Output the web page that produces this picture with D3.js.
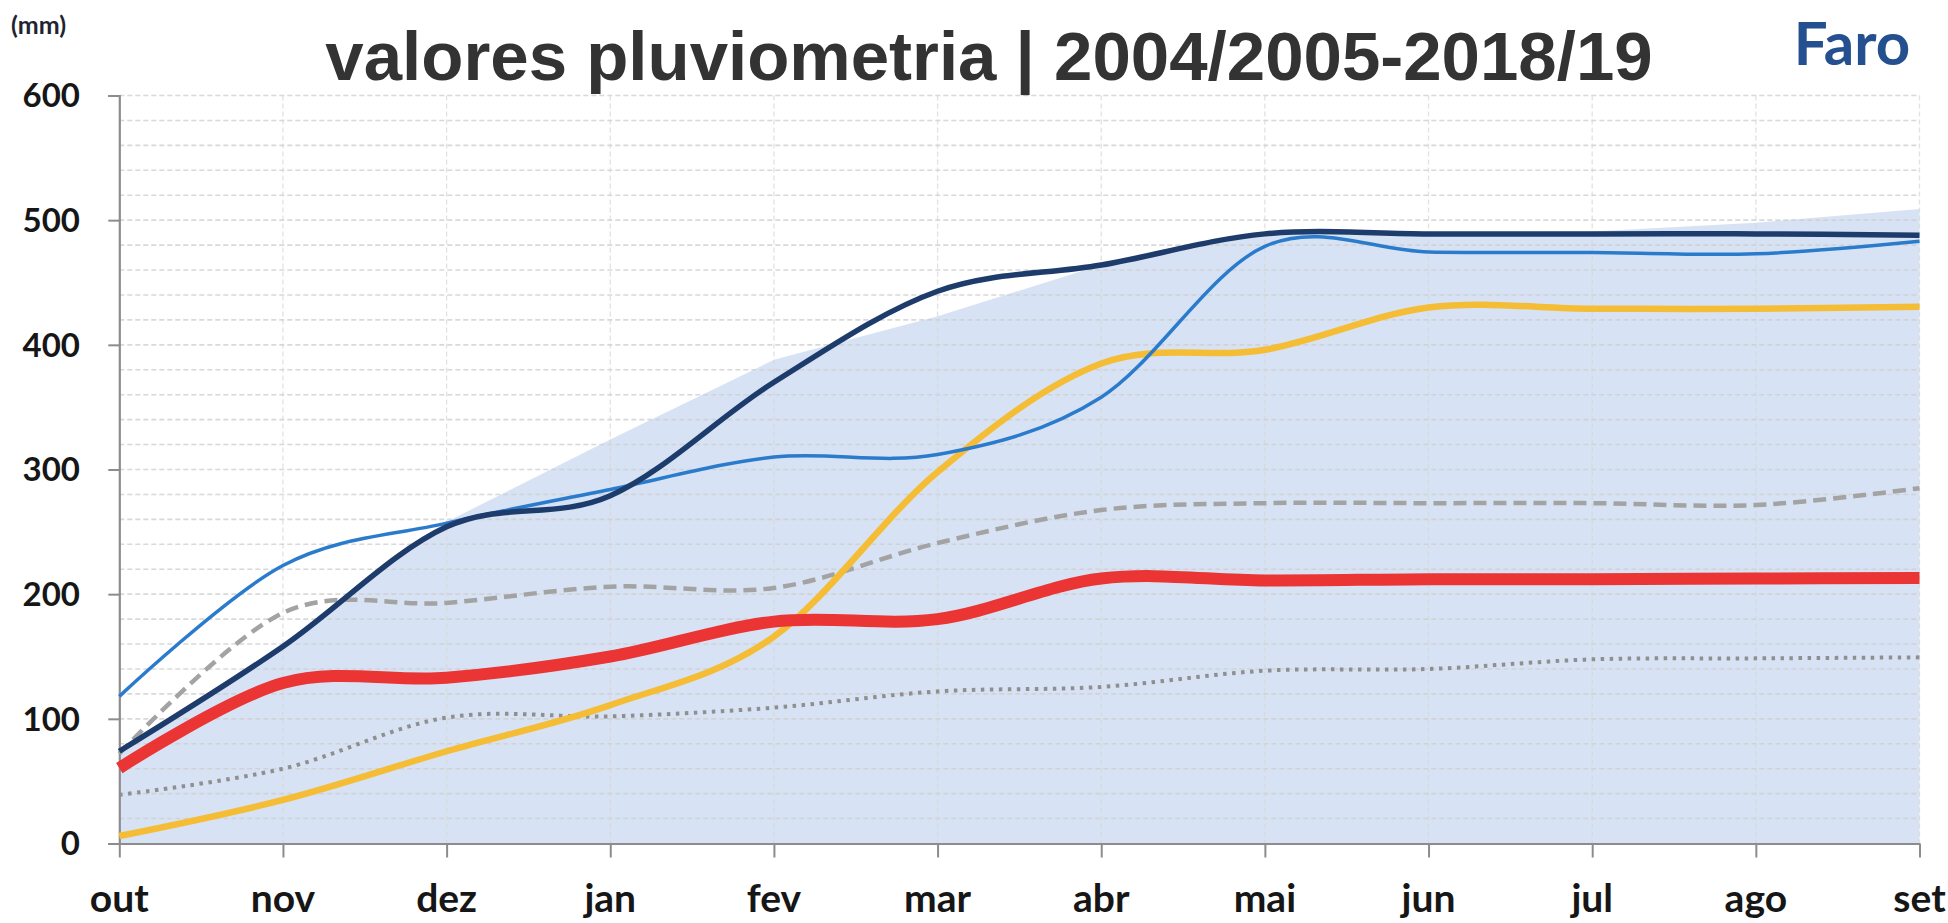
<!DOCTYPE html>
<html>
<head>
<meta charset="utf-8">
<script src="https://cdn.jsdelivr.net/npm/d3@7"></script>
<style>
  html, body { margin: 0; padding: 0; background: #ffffff; }
  svg { display: block; }
</style>
</head>
<body>
<svg id="chart" width="1948" height="923"></svg>
<script>
// ---------------- data ----------------
const months = ["out","nov","dez","jan","fev","mar","abr","mai","jun","jul","ago","set"];
const yTickValues = [0,100,200,300,400,500,600];
const yTickLabels = ["0","100","200","300","400","500","600"];
const gridValues = [20,40,60,80,100,120,140,160,180,200,220,240,260,280,300,320,340,360,380,400,420,440,460,480,500,520,540,560,580,600];

const envelopeMax   = [74,157,258,324,388,423,464,489,490,491,498,509];
const seriesNavy    = [74,158,254,279,370,443,464,489,489,489,489,488];
const seriesBlue    = [118,223,257,284,310,312,358,479,474.5,474,473,483];
const seriesYellow  = [6,35,74,111,166,298,385,396,430,429,429,430.6];
const seriesRed     = [60.5,128.7,133,150,178,180,212.5,211,212,212,212.5,213];
const seriesMean    = [72,185,193,206,205,241,267.5,273,273,273,271.5,285];
const seriesDotted  = [39,60,101,102,109,122,125.6,138.6,140,147.7,148.5,149.3];

const titleText = "valores pluviometria | 2004/2005-2018/19";
const stationText = "Faro";
const unitText = "(mm)";

// ---------------- layout ----------------
const svg = d3.select("#chart");
const plotLeft = 119.3, plotRight = 1919.5, plotTop = 95.5, plotBottom = 843.5;

const x = d3.scalePoint().domain(months).range([plotLeft, plotRight]);
const y = d3.scaleLinear().domain([0, 600]).range([plotBottom, plotTop]);

// area (envelope)
const area = d3.area()
  .x((d, i) => x(months[i]))
  .y0(y(0))
  .y1(d => y(d))
  .curve(d3.curveLinear);
svg.append("path").datum(envelopeMax)
  .attr("d", area)
  .attr("fill", "#d7e3f4");

// horizontal gridlines
svg.append("g").selectAll("line").data(gridValues).join("line")
  .attr("x1", plotLeft).attr("x2", plotRight)
  .attr("y1", d => y(d)).attr("y2", d => y(d))
  .attr("stroke", "#cfcfcf").attr("stroke-width", 1.6)
  .attr("stroke-dasharray", "5,3").attr("opacity", 0.8);

// vertical gridlines
svg.append("g").selectAll("line").data(months.slice(1)).join("line")
  .attr("x1", d => x(d)).attr("x2", d => x(d))
  .attr("y1", plotTop).attr("y2", plotBottom)
  .attr("stroke", "#d6d6d6").attr("stroke-width", 1.3)
  .attr("stroke-dasharray", "5,3").attr("opacity", 0.7);

// axes
const yAxis = d3.axisLeft(y).tickValues(yTickValues).tickSize(11).tickFormat("");
const gy = svg.append("g").attr("transform", `translate(${plotLeft},0)`).call(yAxis);
gy.select(".domain").attr("stroke", "#8c8c8c").attr("stroke-width", 2.2);
gy.selectAll(".tick line").attr("stroke", "#8c8c8c").attr("stroke-width", 2);

const xAxis = d3.axisBottom(x).tickSizeInner(14).tickSizeOuter(0).tickFormat("");
const gx = svg.append("g").attr("transform", `translate(0,${plotBottom})`).call(xAxis);
gx.select(".domain").attr("stroke", "#8c8c8c").attr("stroke-width", 2.2);
gx.selectAll(".tick line").attr("stroke", "#8c8c8c").attr("stroke-width", 2);

// y labels
svg.append("g").selectAll("text").data(yTickValues).join("text")
  .attr("x", 80).attr("y", d => y(d))
  .attr("dy", "0.36em")
  .attr("text-anchor", "end")
  .attr("font-family", "Lato, 'Open Sans', sans-serif")
  .attr("font-weight", "bold").attr("font-size", 33)
  .attr("fill", "#161616")
  .text((d, i) => yTickLabels[i]);

// x labels
svg.append("g").selectAll("text").data(months).join("text")
  .attr("x", d => x(d)).attr("y", 912)
  .attr("text-anchor", "middle")
  .attr("font-family", "Lato, 'Open Sans', sans-serif")
  .attr("font-weight", "bold").attr("font-size", 39)
  .attr("fill", "#161616")
  .text(d => d);

// lines
const line = d3.line()
  .x((d, i) => x(months[i]))
  .y(d => y(d))
  .curve(d3.curveCardinal.tension(0));

const lineSpecs = [
  {data: seriesDotted, color: "#8f8f8f", width: 4, dash: "3.5,5.5"},
  {data: seriesMean,   color: "#a3a3a3", width: 4.5, dash: "13,7"},
  {data: seriesYellow, color: "#f5bd36", width: 6.5, dash: null},
  {data: seriesRed,    color: "#eb3434", width: 12, dash: null},
  {data: seriesBlue,   color: "#2b7bcc", width: 3.5, dash: null},
  {data: seriesNavy,   color: "#1d3c6c", width: 5.5, dash: null}
];
lineSpecs.forEach(s => {
  svg.append("path").datum(s.data)
    .attr("d", line)
    .attr("fill", "none")
    .attr("stroke", s.color)
    .attr("stroke-width", s.width)
    .attr("stroke-linejoin", "round")
    .attr("stroke-dasharray", s.dash);
});

// title and labels
svg.append("text")
  .attr("x", 989).attr("y", 80)
  .attr("text-anchor", "middle")
  .attr("font-family", "'Liberation Sans', Arial, sans-serif")
  .attr("font-weight", "bold").attr("font-size", 69)
  .attr("fill", "#333333")
  .text(titleText);

svg.append("text")
  .attr("x", 1852).attr("y", 65)
  .attr("text-anchor", "middle")
  .attr("font-family", "Lato, 'Open Sans', sans-serif")
  .attr("font-weight", "bold").attr("font-size", 60)
  .attr("fill", "#24508f")
  .text(stationText);

svg.append("text")
  .attr("x", 11).attr("y", 34)
  .attr("font-family", "Lato, 'Open Sans', sans-serif")
  .attr("font-weight", "bold").attr("font-size", 25)
  .attr("fill", "#1e2530")
  .text(unitText);
</script>
</body>
</html>
